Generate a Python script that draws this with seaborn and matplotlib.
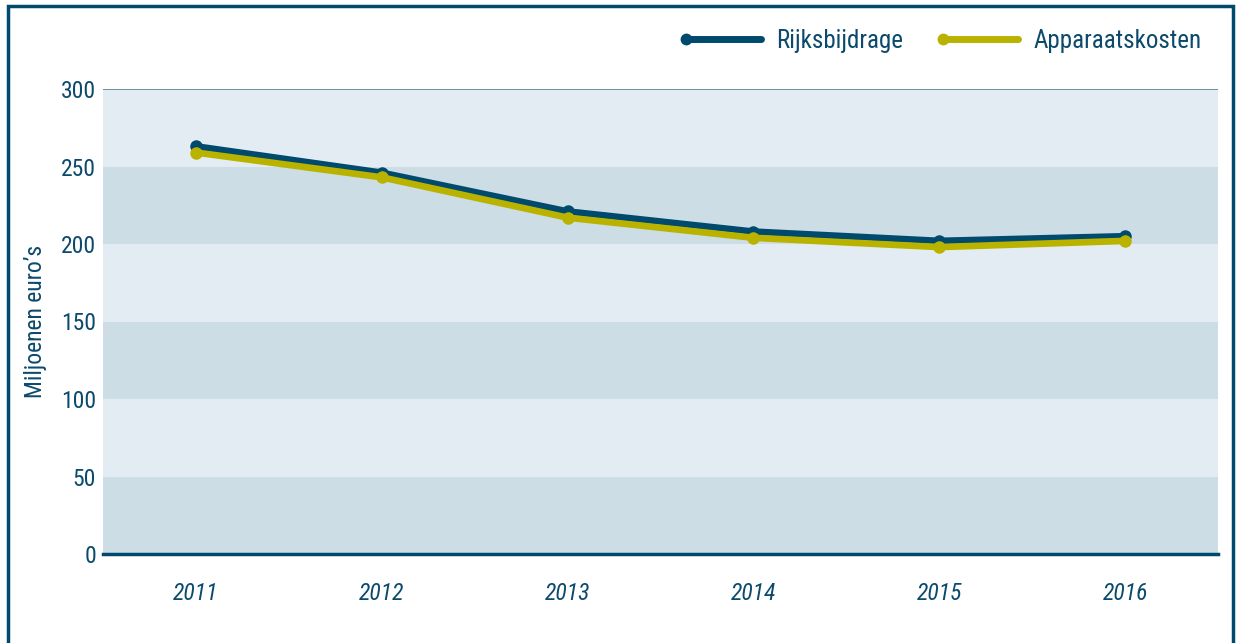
import matplotlib
matplotlib.use("Agg")
import matplotlib.pyplot as plt
from matplotlib.patches import Rectangle
from matplotlib.lines import Line2D
from matplotlib.legend_handler import HandlerLine2D
from matplotlib import font_manager
import seaborn as sns
import pandas as pd

years = ["2011", "2012", "2013", "2014", "2015", "2016"]
rijksbijdrage = [263, 246, 221, 208, 202, 205]
apparaatskosten = [259, 243, 217, 204, 198, 202]
y_ticks = [0, 50, 100, 150, 200, 250, 300]

NAVY = "#004a6e"
YELLOW = "#b9b300"
TEXT = "#0b4a6c"
BAND_DARK = "#cddde5"
BAND_LIGHT = "#e3ecf2"

sns.set_theme(style="white")
available = {f.name for f in font_manager.fontManager.ttflist}
narrow = [n for n in ["Liberation Sans Narrow", "Roboto Condensed", "Roboto"] if n in available]
plt.rcParams["font.family"] = narrow + ["DejaVu Sans"]
plt.rcParams["font.stretch"] = "condensed"

df = pd.DataFrame({
    "jaar": years,
    "Rijksbijdrage": rijksbijdrage,
    "Apparaatskosten": apparaatskosten,
})

fig = plt.figure(figsize=(12.38, 6.43), dpi=100)
ax = fig.add_axes([103 / 1238, 1 - 554 / 643, 1115 / 1238, 465 / 643])

# alternating horizontal bands
for i, (lo, hi) in enumerate(zip(y_ticks[:-1], y_ticks[1:])):
    ax.axhspan(lo, hi, color=BAND_DARK if i % 2 == 0 else BAND_LIGHT, lw=0, zorder=0)
ax.axhline(300, color="#5a7f98", lw=1.2, zorder=1)

sns.lineplot(data=df, x="jaar", y="Rijksbijdrage", ax=ax, color=NAVY, lw=4.8,
             marker="o", markersize=9, markeredgewidth=0, sort=False, zorder=3)
sns.lineplot(data=df, x="jaar", y="Apparaatskosten", ax=ax, color=YELLOW, lw=4.8,
             marker="o", markersize=9, markeredgewidth=0, sort=False, zorder=4)

ax.set_xlim(-0.5, 5.5)
ax.set_ylim(0, 300)
ax.set_yticks(y_ticks)
ax.set_xlabel("")
ax.set_ylabel("Miljoenen euro’s", color=TEXT, fontsize=17, labelpad=10)
ax.tick_params(axis="y", length=0, pad=5, labelsize=17, labelcolor=TEXT)
ax.tick_params(axis="x", length=0, pad=20, labelsize=17, labelcolor=TEXT)
for lbl in ax.get_xticklabels():
    lbl.set_fontstyle("italic")

for side in ["top", "right", "left"]:
    ax.spines[side].set_visible(False)
ax.spines["bottom"].set_color(NAVY)
ax.spines["bottom"].set_linewidth(2.5)
ax.spines["bottom"].set_zorder(5)
ax.grid(False)


class StartDotHandler(HandlerLine2D):
    """Legend line with its dot at the left end."""
    def create_artists(self, *args, **kwargs):
        artists = super().create_artists(*args, **kwargs)
        for a in artists:
            a.set_markevery([0])
        return artists


handles = [
    Line2D([], [], color=NAVY, lw=5, marker="o", markersize=8.5, markeredgewidth=0,
           solid_capstyle="round"),
    Line2D([], [], color=YELLOW, lw=5, marker="o", markersize=8.5, markeredgewidth=0,
           solid_capstyle="round"),
]
leg = fig.legend(handles, ["Rijksbijdrage", "Apparaatskosten"], ncol=2,
                 loc="center right", bbox_to_anchor=(1224 / 1238, 1 - 41 / 643),
                 frameon=False, fontsize=18, handlelength=3.0, handletextpad=0.6,
                 columnspacing=1.6, numpoints=1,
                 handler_map={Line2D: StartDotHandler(numpoints=1)})
for t in leg.get_texts():
    t.set_color(TEXT)

# outer frame
fig.patches.append(Rectangle((8 / 1238, -0.01), (1233 - 8) / 1238, 1 - 6 / 643 + 0.01,
                             transform=fig.transFigure, fill=False,
                             edgecolor=NAVY, lw=2.5))

fig.savefig("out.png", dpi=100)
